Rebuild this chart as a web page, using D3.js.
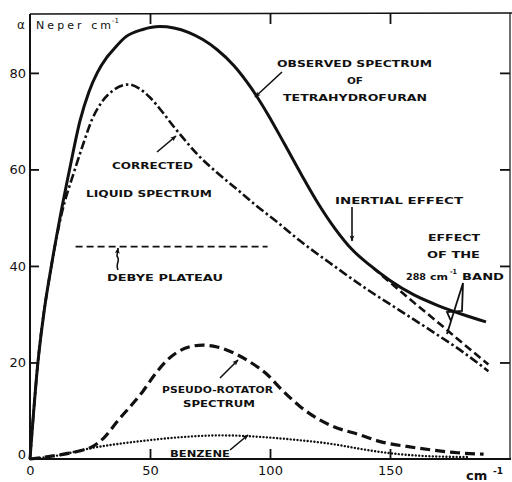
<!DOCTYPE html>
<html>
<head>
<meta charset="utf-8">
<script src="https://cdn.jsdelivr.net/npm/d3@7"></script>
<style>
    html, body { margin: 0; padding: 0; background: #ffffff; }
    svg { display: block; }
</style>
</head>
<body>
<svg id="chart"></svg>
<script>
// values (x in cm-1, alpha in Neper cm-1)
const observedX  = [0, 3.3, 6, 8.9, 12.5, 16.7, 20.8, 24.5, 28, 32, 35.4, 40, 47, 54, 60, 66, 72, 78, 85, 92, 99, 106, 113, 120, 127, 134, 142, 150, 160, 170, 180, 190];
const observedY  = [0, 20, 31, 40, 50, 60.5, 70, 76, 80, 83.2, 85.2, 87.5, 89, 89.6, 89.3, 88.4, 86.9, 84.8, 81.5, 77, 71.5, 65.3, 59, 53, 47.8, 43.5, 40, 37, 34, 31.8, 30, 28.4];

const correctedX = [0, 3.3, 8.9, 12.8, 18.7, 22, 26, 30, 35, 41, 46, 50, 55, 60, 65, 70, 78, 86, 94, 103, 112.5, 125, 140, 154, 168, 180, 191];
const correctedY = [0, 20, 40, 50, 60, 65, 70.5, 74, 76.5, 77.6, 76.6, 74.9, 72, 68.8, 65.8, 63, 59.3, 56, 52.6, 49.1, 45.2, 40.6, 35.3, 30.8, 26.3, 22.3, 18.2];

const pseudoX    = [0, 5, 11.7, 20, 25.8, 31, 36.7, 42, 47, 52, 57, 61, 67, 72, 78, 84.7, 92, 98.6, 105, 112.5, 120, 126, 137.5, 146, 157, 167, 178, 189];
const pseudoY    = [0, 0.3, 0.8, 1.6, 2.5, 4.5, 8, 11, 14, 17.5, 20.4, 22, 23.3, 23.6, 23.2, 22, 20, 17.6, 14.3, 10.9, 8.3, 6.8, 5, 3.6, 2.6, 1.9, 1.3, 1];

const benzeneX   = [0, 10, 26, 48, 65, 80, 95, 110, 126, 140, 150, 165, 183];
const benzeneY   = [0, 0.6, 2.3, 3.8, 4.6, 4.9, 4.6, 4, 3.1, 1.9, 1.2, 0.6, 0.4];

const band288X   = [143, 150, 160, 170, 180, 191];
const band288Y   = [39.6, 36.6, 32.4, 28.3, 24.1, 19.6];

const debyeX     = [19, 99];
const debyeY     = [44, 44];

const xTicks = [0, 50, 100, 150];
const yTicks = [0, 20, 40, 60, 80];

class Chart {
    constructor (selector) {
        this.w = 512;
        this.h = 482;
        this.svg = d3.select(selector)
            .attr('width', this.w)
            .attr('height', this.h)
            .attr('font-family', 'DejaVu Sans, sans-serif');

        this.x = d3.scaleLinear().domain([0, 200]).range([30, 510]);
        this.y = d3.scaleLinear().domain([0, 92.2]).range([459, 14]);

        this.makeMarker();
    }
    makeMarker () {
        this.svg.append('defs')
            .append('marker')
            .attr('id', 'head')
            .attr('markerUnits', 'userSpaceOnUse')
            .attr('viewBox', '0 0 10 10')
            .attr('refX', 9)
            .attr('refY', 5)
            .attr('markerWidth', 9)
            .attr('markerHeight', 6)
            .attr('orient', 'auto')
            .append('path')
            .attr('d', 'M0,1 L10,5 L0,9 L2,5 Z')
            .attr('fill', '#111');
    }
    zip (xs, ys) {
        return xs.map((v, i) => { return [v, ys[i]]; });
    }
    drawAxes () {
        let svg = this.svg;
        let x = this.x;
        let y = this.y;

        let frame = svg.append('g').attr('stroke', '#111').attr('fill', 'none');
        frame.append('line').attr('x1', 30).attr('x2', 30).attr('y1', 14).attr('y2', 460).attr('stroke-width', 2);
        frame.append('line').attr('x1', 29).attr('x2', 511).attr('y1', 459).attr('y2', 459).attr('stroke-width', 2);
        frame.append('line').attr('x1', 30).attr('x2', 512).attr('y1', 14).attr('y2', 13).attr('stroke-width', 1.5);
        frame.append('line').attr('x1', 510).attr('x2', 510).attr('y1', 13).attr('y2', 459).attr('stroke-width', 1.2);

        let left = svg.append('g')
            .attr('transform', 'translate(30,0)')
            .call(d3.axisLeft(y).tickValues(yTicks).tickSize(-9).tickPadding(4));
        let bottom = svg.append('g')
            .attr('transform', 'translate(0,459)')
            .call(d3.axisBottom(x).tickValues(xTicks).tickSize(-10).tickPadding(7));
        let top = svg.append('g')
            .attr('transform', 'translate(0,14)')
            .call(d3.axisTop(x).tickValues([50, 100, 150]).tickSize(-10).tickFormat(''));
        let right = svg.append('g')
            .attr('transform', 'translate(510,0)')
            .call(d3.axisRight(y).tickValues([20, 40, 60, 80]).tickSize(-10).tickFormat(''));

        for (let g of [left, bottom, top, right]) {
            g.select('.domain').remove();
            g.selectAll('line').attr('stroke', '#111').attr('stroke-width', 1.8);
            g.selectAll('text')
                .attr('fill', '#111')
                .attr('font-size', 13)
                .attr('font-family', 'DejaVu Sans, sans-serif');
        }
        left.selectAll('.tick').filter((d) => { return d === 0; }).select('line').remove();
        left.selectAll('.tick').filter((d) => { return d === 0; }).select('text').attr('y', -5);
        bottom.selectAll('.tick').filter((d) => { return d === 0; }).select('line').remove();

        // axis titles
        svg.append('text').attr('x', 17).attr('y', 29).attr('font-size', 12).attr('fill', '#111').text('α');
        svg.append('text').attr('x', 36).attr('y', 29).attr('font-size', 11).attr('fill', '#111')
            .attr('textLength', 75).attr('lengthAdjust', 'spacing').text('Neper cm');
        svg.append('text').attr('x', 112).attr('y', 23).attr('font-size', 7).attr('fill', '#111').text('-1');

        svg.append('text').attr('x', 466).attr('y', 480).attr('font-size', 13).attr('font-weight', 'bold').attr('fill', '#111').text('cm');
        svg.append('text').attr('x', 493).attr('y', 474).attr('font-size', 9).attr('font-weight', 'bold').attr('fill', '#111').text('-1');
    }
    drawCurve (xs, ys, width, dash, cap) {
        let line = d3.line()
            .x((d) => { return this.x(d[0]); })
            .y((d) => { return this.y(d[1]); })
            .curve(d3.curveMonotoneX);

        this.svg.append('path')
            .datum(this.zip(xs, ys))
            .attr('d', line)
            .attr('fill', 'none')
            .attr('stroke', '#111')
            .attr('stroke-width', width)
            .attr('stroke-dasharray', dash)
            .attr('stroke-linecap', cap || 'butt')
            .attr('stroke-linejoin', 'round');
    }
    drawCurves () {
        this.drawCurve(debyeX, debyeY, 1.6, '7 4');
        this.drawCurve(benzeneX, benzeneY, 2.4, '0.01 3.4', 'round');
        this.drawCurve(pseudoX, pseudoY, 3.2, '10 5');
        this.drawCurve(correctedX, correctedY, 2.6, '9 3 2.5 3');
        this.drawCurve(band288X, band288Y, 2.6, '8 4');
        this.drawCurve(observedX, observedY, 3, null);
    }
    label (text, x1, x2, y, size) {
        this.svg.append('text')
            .attr('x', x1)
            .attr('y', y)
            .attr('font-size', size || 9)
            .attr('font-weight', 'bold')
            .attr('fill', '#111')
            .attr('textLength', x2 - x1)
            .attr('lengthAdjust', 'spacingAndGlyphs')
            .text(text);
    }
    arrow (d) {
        this.svg.append('path')
            .attr('d', d)
            .attr('fill', 'none')
            .attr('stroke', '#111')
            .attr('stroke-width', 1.6)
            .attr('marker-end', 'url(#head)');
    }
    drawLabels () {
        this.label('OBSERVED SPECTRUM', 277, 432, 67);
        this.label('OF', 347, 363, 84);
        this.label('TETRAHYDROFURAN', 283, 427, 101);
        this.arrow('M282,72 L255,97');

        this.label('CORRECTED', 112, 193, 169);
        this.label('LIQUID SPECTRUM', 86, 212, 197);
        this.arrow('M157,152 L176,136');

        this.label('DEBYE PLATEAU', 107, 223, 281);
        this.arrow('M118,270 C115,263 121,261 117,256 L118,248');

        this.label('INERTIAL EFFECT', 335, 463, 204);
        this.arrow('M352,207 L352,241');

        this.label('EFFECT', 428, 480, 241);
        this.label('OF THE', 427, 480, 258);
        this.label('288', 406, 426, 280);
        this.label('cm', 430, 448, 280);
        this.label('-1', 450, 457, 274, 7);
        this.label('BAND', 462, 504, 280);
        this.svg.append('path')
            .attr('d', 'M463,283 L462,311 L447,312 L451,321 Z M451,321 L447,334')
            .attr('fill', 'none')
            .attr('stroke', '#111')
            .attr('stroke-width', 1.8);

        this.label('PSEUDO-ROTATOR', 162, 273, 393);
        this.label('SPECTRUM', 183, 255, 407);
        this.arrow('M220,378 L238,360');

        this.label('BENZENE', 170, 230, 457);
        this.arrow('M230,450 L248,435');
    }
    draw () {
        this.drawAxes();
        this.drawCurves();
        this.drawLabels();
    }
}

new Chart('#chart').draw();
</script>
</body>
</html>
